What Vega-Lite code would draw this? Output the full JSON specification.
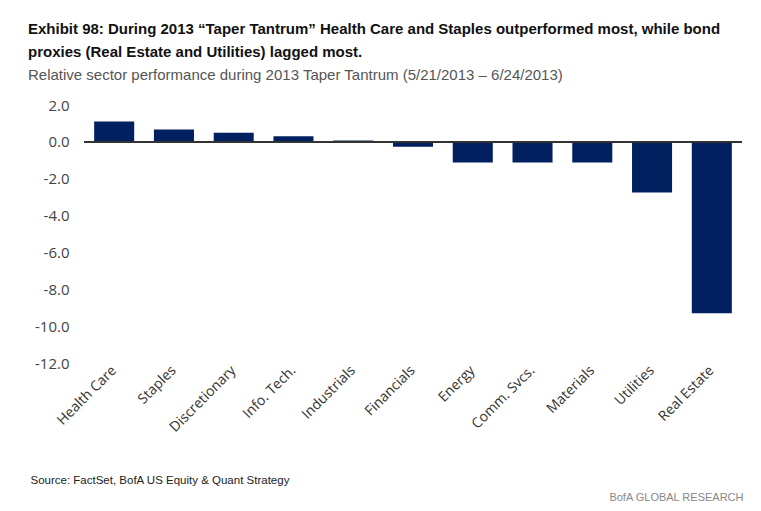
{
  "$schema": "https://vega.github.io/schema/vega-lite/v6.json",
  "width": 658,
  "height": 258,
  "autosize": {"type": "none"},
  "padding": {"left": 84, "top": 105, "right": 19, "bottom": 148},
  "background": "white",
  "title": {
    "text": ["Exhibit 98: During 2013 “Taper Tantrum” Health Care and Staples outperformed most, while bond", "proxies (Real Estate and Utilities) lagged most."],
    "subtitle": "Relative sector performance during 2013 Taper Tantrum (5/21/2013 – 6/24/2013)",
    "anchor": "start",
    "frame": "group",
    "dx": -56,
    "offset": 15,
    "font": "Liberation Sans",
    "fontSize": 15,
    "fontWeight": "bold",
    "color": "#111111",
    "lineHeight": 23,
    "subtitleFont": "Liberation Sans",
    "subtitleFontSize": 15,
    "subtitleColor": "#555555",
    "subtitlePadding": 8
  },
  "data": {
    "values": [
      {"sector": "Health Care", "value": 1.1},
      {"sector": "Staples", "value": 0.67},
      {"sector": "Discretionary", "value": 0.5},
      {"sector": "Info. Tech.", "value": 0.3},
      {"sector": "Industrials", "value": 0.08},
      {"sector": "Financials", "value": -0.27},
      {"sector": "Energy", "value": -1.12},
      {"sector": "Comm. Svcs.", "value": -1.12},
      {"sector": "Materials", "value": -1.12},
      {"sector": "Utilities", "value": -2.75},
      {"sector": "Real Estate", "value": -9.3}
    ]
  },
  "layer": [
    {
      "mark": {"type": "bar", "color": "#002060"},
      "encoding": {
        "x": {
          "field": "sector",
          "type": "nominal",
          "sort": null,
          "scale": {"paddingInner": 0.33, "paddingOuter": 0.17},
          "axis": {
            "title": "Source: FactSet, BofA US Equity & Quant Strategy",
            "titleFont": "Liberation Sans",
            "titleFontSize": 11.5,
            "titleFontWeight": "normal",
            "titleColor": "#222222",
            "titleAnchor": "start",
            "titleAlign": "left",
            "titleBaseline": "middle",
            "titleX": -54,
            "titleY": 117,
            "labelAngle": -45,
            "labelAlign": "right",
            "labelBaseline": "middle",
            "labelFont": "Open Sans",
            "labelFontSize": 14,
            "labelColor": "#333333",
            "labelPadding": 5,
            "labelOverlap": false,
            "domain": false,
            "ticks": false
          }
        },
        "y": {
          "field": "value",
          "type": "quantitative",
          "scale": {"domain": [-12, 2], "nice": false},
          "axis": {
            "values": [2, 0, -2, -4, -6, -8, -10, -12],
            "labelExpr": "datum.value < 0 ? '-' + format(-datum.value, '.1f') : format(datum.value, '.1f')",
            "labelOverlap": false,
            "grid": false,
            "domain": false,
            "ticks": false,
            "labelFont": "Open Sans",
            "labelFontSize": 15,
            "labelColor": "#444444",
            "labelPadding": 15,
            "title": "BofA GLOBAL RESEARCH",
            "titleAngle": 0,
            "titleFont": "Liberation Sans",
            "titleFontSize": 11,
            "titleFontWeight": "normal",
            "titleColor": "#888888",
            "titleAlign": "right",
            "titleBaseline": "middle",
            "titleX": 659,
            "titleY": 392
          }
        }
      }
    },
    {
      "mark": {"type": "rule", "color": "#333333", "strokeWidth": 1.5},
      "encoding": {
        "y": {
          "datum": 0,
          "type": "quantitative",
          "axis": {
            "values": [2, 0, -2, -4, -6, -8, -10, -12],
            "labelExpr": "datum.value < 0 ? '-' + format(-datum.value, '.1f') : format(datum.value, '.1f')",
            "labelOverlap": false,
            "grid": false,
            "domain": false,
            "ticks": false,
            "labelFont": "Open Sans",
            "labelFontSize": 15,
            "labelColor": "#444444",
            "labelPadding": 15,
            "title": "BofA GLOBAL RESEARCH",
            "titleAngle": 0,
            "titleFont": "Liberation Sans",
            "titleFontSize": 11,
            "titleFontWeight": "normal",
            "titleColor": "#888888",
            "titleAlign": "right",
            "titleBaseline": "middle",
            "titleX": 659,
            "titleY": 392
          }
        }
      }
    }
  ],
  "config": {"view": {"stroke": null}, "axisY": {"labelOverlap": false}}
}
